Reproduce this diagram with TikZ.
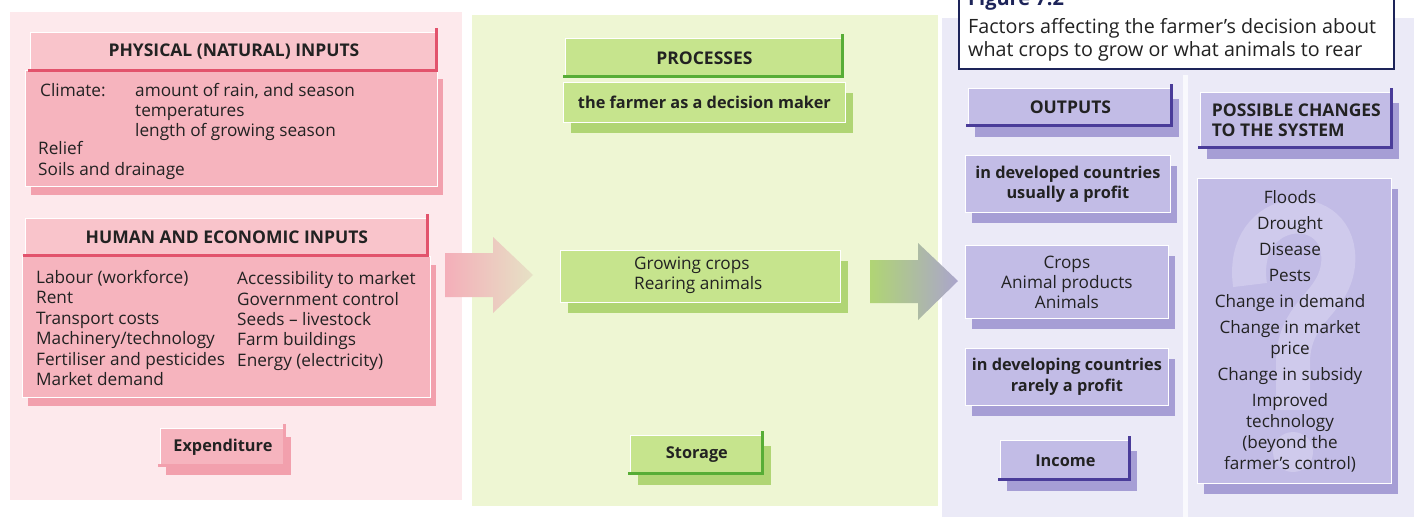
\documentclass[tikz,border=0pt]{standalone}
\usepackage{fontspec}
\setmainfont{Open Sans}
\usetikzlibrary{shadows}

\definecolor{pinkbg}{HTML}{FDE9EC}
\definecolor{pinkhead}{HTML}{F9C4CB}
\definecolor{pinkbox}{HTML}{F6B4BE}
\definecolor{pinkdark}{HTML}{E2536C}
\definecolor{pinkshade}{HTML}{F2A0AD}
\definecolor{greenbg}{HTML}{EEF6D3}
\definecolor{greenbox}{HTML}{C6E48D}
\definecolor{greendark}{HTML}{57AD36}
\definecolor{greenshade}{HTML}{B0D574}
\definecolor{lilacbg}{HTML}{EBEAF7}
\definecolor{lilacbox}{HTML}{C2BCE6}
\definecolor{lilacmark}{HTML}{CFCAEC}
\definecolor{lilacdark}{HTML}{4A3C99}
\definecolor{lilacshade}{HTML}{A69ED5}
\definecolor{navy}{HTML}{1D2459}
\definecolor{ink}{HTML}{222222}

\tikzset{
  x=1pt, y=-1pt,
  every node/.style={text=ink},
  txt/.style={inner sep=0pt, font=\fontsize{17.2}{20.4}\selectfont, align=left},
  headfont/.style={font=\bfseries\fontsize{16.3}{20}\selectfont},
  capsfont/.style={font=\bfseries\fontsize{17.5}{20}\selectfont},
  basebox/.style={rectangle, inner sep=0pt, anchor=north west, draw=white, line width=0.8pt},
  pinkb/.style={basebox, fill=pinkbox, drop shadow={shadow xshift=6pt, shadow yshift=-9pt, fill=pinkshade, opacity=1}},
  pinkh/.style={basebox, fill=pinkhead},
  greenb/.style={basebox, fill=greenbox, drop shadow={shadow xshift=8pt, shadow yshift=-11pt, fill=greenshade, opacity=1}},
  greenh/.style={basebox, fill=greenbox},
  lilacb/.style={basebox, fill=lilacbox, drop shadow={shadow xshift=7pt, shadow yshift=-11pt, fill=lilacshade, opacity=1}},
}
% dark bevel along the right and bottom edge of a box
\newcommand\bevel[2]{\draw[#2, line width=3pt] ([xshift=-1.5pt,yshift=4pt]#1.north east) -- ([xshift=-1.5pt,yshift=1.5pt]#1.south east) -- ([xshift=-2pt,yshift=1.5pt]#1.south west);}

\begin{document}
\begin{tikzpicture}
\useasboundingbox (0,0) rectangle (1414,517);
\clip (0,0) rectangle (1414,517);
\fill[white] (0,0) rectangle (1414,517);

% three panels
\fill[pinkbg] (10,12) rectangle (462,500);
\fill[greenbg] (472,15) rectangle (938,506);
\fill[lilacbg] (942,18) rectangle (1414,517);
\fill[white!70!lilacbg] (1183,75) rectangle (1188,517);

% ---------- inputs ----------
\node[pinkb, minimum width=412pt, minimum height=116pt] (physbody) at (25,70) {};
\node[pinkh, capsfont, minimum width=407pt, minimum height=39pt] (physhead) at (30,32) {PHYSICAL (NATURAL) INPUTS};
\bevel{physhead}{pinkdark}
\node[txt, anchor=west] (climate) at (40,90) {Climate:};
\node[txt, anchor=west, font=\fontsize{17.2}{20}\selectfont] (climlist) at (135,112) {amount of rain, and season\\temperatures\\length of growing season};
\node[txt, anchor=west, font=\fontsize{17.2}{21}\selectfont] (soils) at (38,160.5) {Relief\\Soils and drainage};

\node[pinkb, minimum width=408pt, minimum height=141pt] (humbody) at (22,256) {};
\node[pinkh, capsfont, minimum width=403pt, minimum height=38pt] (humhead) at (25,218) {HUMAN AND ECONOMIC INPUTS};
\bevel{humhead}{pinkdark}
\node[txt, anchor=west] (humleft) at (36,328) {Labour (workforce)\\Rent\\Transport costs\\Machinery/technology\\Fertiliser and pesticides\\Market demand};
\node[txt, anchor=west] (humright) at (237,321) {Accessibility to market\\Government control\\Seeds -- livestock\\Farm buildings\\Energy (electricity)};

\node[pinkb, headfont, minimum width=125pt, minimum height=38pt] (expend) at (160,428) {Expenditure};
\bevel{expend}{pinkshade}

% arrow from inputs to processes
\shade[left color=pinkshade!85, right color=greenshade!50!brown!35!white]
  (445,253) -- (493,253) -- (493,237) -- (533,275) -- (493,313) -- (493,297) -- (445,297) -- cycle;

% ---------- processes ----------
\node[greenb, headfont, minimum width=282pt, minimum height=40pt] (decide) at (563,82) {the farmer as a decision maker};
\node[greenh, capsfont, minimum width=278pt, minimum height=39pt] (proc) at (565,38) {PROCESSES};
\bevel{proc}{greendark}
\node[greenb, minimum width=280pt, minimum height=52pt] (grow) at (560,250) {};
\node[txt, anchor=west, font=\fontsize{17.2}{20}\selectfont] (growtxt) at (634,275) {Growing crops\\Rearing animals};
\node[greenb, headfont, minimum width=133pt, minimum height=39pt] (storage) at (630,435) {Storage};
\bevel{storage}{greendark}

% arrow from processes to outputs
\shade[left color=greenshade, right color=lilacshade!90!black!80]
  (870,260) -- (918,260) -- (918,243) -- (958,281) -- (918,320) -- (918,303) -- (870,303) -- cycle;

% ---------- title ----------
\node[basebox, fill=white, draw=navy, line width=2pt, minimum width=435pt, minimum height=80pt] (title) at (958,-12) {};
\node[inner sep=0pt, anchor=base west, text=navy, font=\bfseries\fontsize{20}{23}\selectfont] (fignum) at (968,5) {Figure 7.2};
\node[txt, anchor=west, font=\fontsize{19.7}{23}\selectfont] (caption) at (968,40) {Factors affecting the farmer's decision about\\what crops to grow or what animals to rear};

% ---------- outputs ----------
\node[lilacb, capsfont, minimum width=204pt, minimum height=38pt] (outhead) at (968,88) {OUTPUTS};
\bevel{outhead}{lilacdark}
\node[lilacb, headfont, minimum width=205pt, minimum height=57pt, align=center] (devd) at (965,155) {in developed countries\\usually a profit};
\node[lilacb, minimum width=203pt, minimum height=73pt, font=\fontsize{17.2}{20}\selectfont, align=center] (crops) at (965,245) {Crops\\Animal products\\Animals};
\node[lilacb, minimum width=203pt, minimum height=57pt, font=\bfseries\fontsize{16.3}{21}\selectfont, align=center] (devg) at (965,348) {in developing countries\\rarely a profit};
\node[lilacb, headfont, minimum width=130pt, minimum height=40pt] (income) at (1000,440) {Income};
\bevel{income}{lilacdark}

% ---------- possible changes ----------
\node[lilacb, capsfont, minimum width=192pt, minimum height=56pt, align=left] (chghead) at (1200,92) {POSSIBLE CHANGES\\TO THE SYSTEM};
\bevel{chghead}{lilacdark}
\node[lilacb, minimum width=194pt, minimum height=305pt] (chgbody) at (1197,178) {};
% faint question mark behind the list
\draw[lilacmark, line width=34pt, line cap=butt]
  (1250,285) .. controls (1238,200) and (1345,195) .. (1338,265)
  .. controls (1333,305) and (1295,310) .. (1293,360) -- (1293,410);
\fill[lilacmark] (1293,452) circle (20);
\node[txt, align=center, font=\fontsize{17.1}{21}\selectfont] (chglist) at (1290,331.5) {Floods\\[5pt]Drought\\[5pt]Disease\\[5pt]Pests\\[5pt]Change in demand\\[5pt]Change in market\\price\\[5pt]Change in subsidy\\[5pt]Improved\\technology\\(beyond the\\farmer's control)};
\end{tikzpicture}
\end{document}
